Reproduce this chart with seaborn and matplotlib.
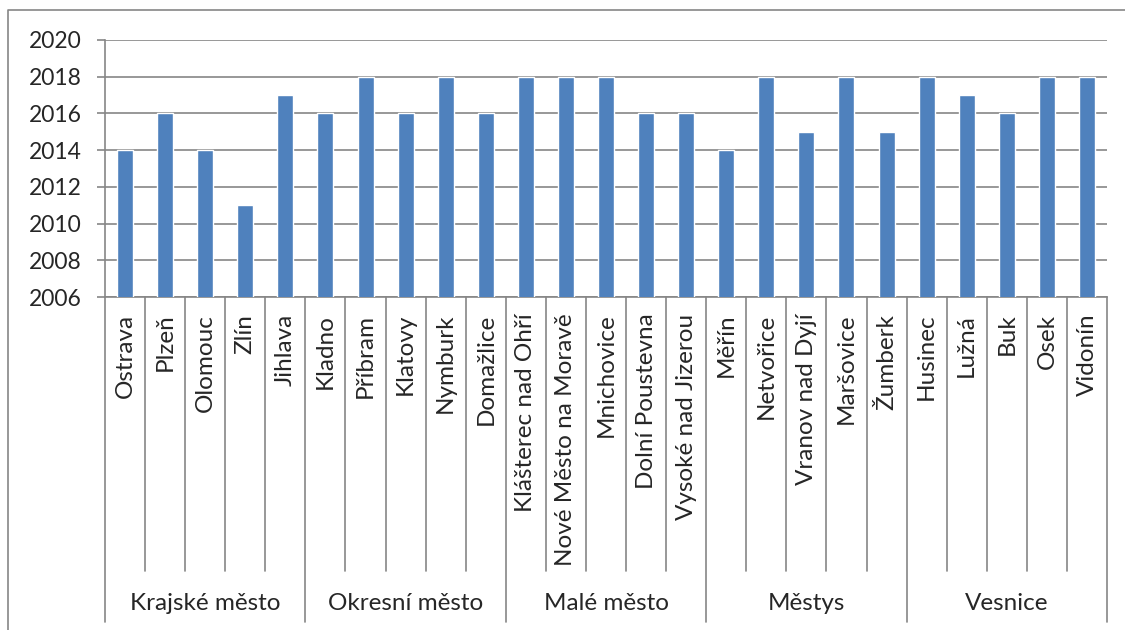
import matplotlib
matplotlib.use("Agg")
import matplotlib.pyplot as plt
import matplotlib.transforms as mtransforms
from matplotlib.lines import Line2D
import pandas as pd
import seaborn as sns

cities = [
    "Ostrava", "Plzeň", "Olomouc", "Zlín", "Jihlava",
    "Kladno", "Příbram", "Klatovy", "Nymburk", "Domažlice",
    "Klášterec nad Ohří", "Nové Město na Moravě", "Mnichovice", "Dolní Poustevna", "Vysoké nad Jizerou",
    "Měřín", "Netvořice", "Vranov nad Dyjí", "Maršovice", "Žumberk",
    "Husinec", "Lužná", "Buk", "Osek", "Vidonín",
]
years = [
    2014, 2016, 2014, 2011, 2017,
    2016, 2018, 2016, 2018, 2016,
    2018, 2018, 2018, 2016, 2016,
    2014, 2018, 2015, 2018, 2015,
    2018, 2017, 2016, 2018, 2018,
]
groups = ["Krajské město", "Okresní město", "Malé město", "Městys", "Vesnice"]
group_sizes = [5, 5, 5, 5, 5]
y_ticks = [2006, 2008, 2010, 2012, 2014, 2016, 2018, 2020]

BAR = "#4F81BD"
GRID = "#868686"
FONT = "Lato"
FS_Y = 16.5
FS_X = 17.5

W, H = 1125, 630
AX_L, AX_R, AX_T, AX_B = 105, 1107, 40, 297

sns.set_theme(style="white")
plt.rcParams["font.family"] = [FONT, "DejaVu Sans"]

df = pd.DataFrame({"city": cities, "year": years})

fig = plt.figure(figsize=(W / 100, H / 100), dpi=100)
ax = fig.add_axes([AX_L / W, 1 - AX_B / H, (AX_R - AX_L) / W, (AX_B - AX_T) / H])

sns.barplot(data=df, x="city", y="year", color=BAR, width=0.4,
            saturation=1, ax=ax, zorder=3)

ax.set_ylim(2006, 2020)
ax.set_xlim(-0.5, len(cities) - 0.5)
ax.set_yticks(y_ticks)
ax.set_yticklabels([str(t) for t in y_ticks], fontsize=FS_Y)
ax.yaxis.grid(True, color=GRID, linewidth=1.2, zorder=0)
ax.set_axisbelow(True)
ax.tick_params(axis="y", length=6, width=1.2, color=GRID, pad=11, left=True)
ax.tick_params(axis="x", length=0, pad=12)
ax.set_xticks(range(len(cities)))
ax.set_xticklabels(cities, rotation=90, fontsize=FS_X, va="top", ha="center")
ax.set_xlabel("")
ax.set_ylabel("")
for side in ["top", "right"]:
    ax.spines[side].set_visible(False)
for side in ["left", "bottom"]:
    ax.spines[side].set_color(GRID)
    ax.spines[side].set_linewidth(1.2)

# multi-level category axis separators
ax_h = AX_B - AX_T
trans = mtransforms.blended_transform_factory(ax.transData, ax.transAxes)
minor_end = -(571 - AX_B) / ax_h
major_end = -(622 - AX_B) / ax_h
bounds = [0]
for s in group_sizes:
    bounds.append(bounds[-1] + s)
for i in range(len(cities) + 1):
    end = major_end if i in bounds else minor_end
    ax.plot([i - 0.5, i - 0.5], [0, end], color=GRID, linewidth=1.2,
            transform=trans, clip_on=False)

for g, a, b in zip(groups, bounds[:-1], bounds[1:]):
    ax.text((a + b - 1) / 2, -(604 - AX_B) / ax_h, g, transform=trans,
            ha="center", va="center", fontsize=FS_X)

# chart area border (only left and top visible in the crop)
fig.lines.append(Line2D([8 / W, 8 / W, 1.0], [0.0, 1 - 10 / H, 1 - 10 / H],
                        transform=fig.transFigure, color=GRID, linewidth=1.2))

fig.savefig("out.png", dpi=100)
